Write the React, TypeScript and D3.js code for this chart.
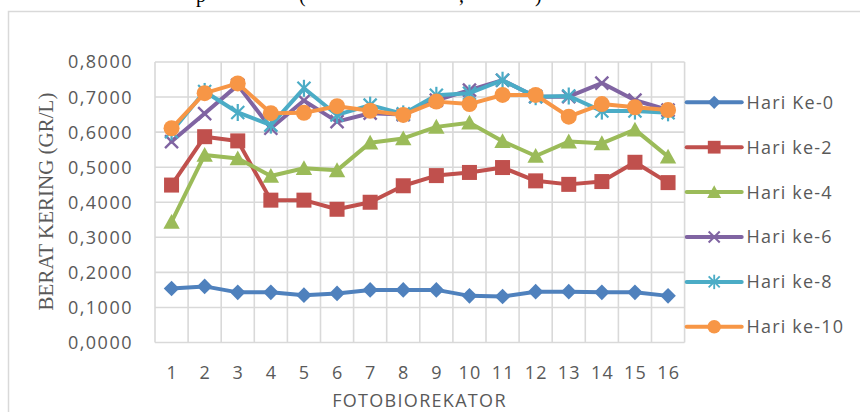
import React from "react";
import * as d3 from "d3";

// Categories (photobioreactor number) and y-axis ticks
const categories = ["1", "2", "3", "4", "5", "6", "7", "8", "9", "10", "11", "12", "13", "14", "15", "16"];
const yTicks = [0, 0.1, 0.2, 0.3, 0.4, 0.5, 0.6, 0.7, 0.8];

// Dry weight (gr/L) per day
const hari0 = [0.154, 0.160, 0.143, 0.143, 0.135, 0.140, 0.150, 0.150, 0.150, 0.133, 0.131, 0.145, 0.145, 0.143, 0.143, 0.133];
const hari2 = [0.449, 0.587, 0.575, 0.406, 0.406, 0.380, 0.400, 0.447, 0.476, 0.485, 0.499, 0.461, 0.451, 0.459, 0.514, 0.456];
const hari4 = [0.344, 0.535, 0.525, 0.475, 0.497, 0.491, 0.570, 0.582, 0.615, 0.627, 0.574, 0.532, 0.573, 0.568, 0.607, 0.530];
const hari6 = [0.573, 0.653, 0.734, 0.611, 0.690, 0.630, 0.654, 0.650, 0.691, 0.720, 0.748, 0.701, 0.701, 0.740, 0.691, 0.663];
const hari8 = [0.601, 0.716, 0.656, 0.620, 0.725, 0.649, 0.677, 0.652, 0.705, 0.711, 0.748, 0.701, 0.703, 0.660, 0.660, 0.655];
const hari10 = [0.611, 0.711, 0.739, 0.654, 0.655, 0.674, 0.661, 0.649, 0.687, 0.680, 0.706, 0.706, 0.644, 0.680, 0.671, 0.663];

const seriesNames = ["Hari Ke-0", "Hari ke-2", "Hari ke-4", "Hari ke-6", "Hari ke-8", "Hari ke-10"];
const seriesValues = [hari0, hari2, hari4, hari6, hari8, hari10];
const seriesColors = ["#4f81bd", "#c0504d", "#9bbb59", "#8064a2", "#4bacc6", "#f79646"];
const seriesMarkers = ["diamond", "square", "triangle", "x", "star", "circle"];

const W = 860;
const H = 412;
const plot = { left: 155, right: 684.6, top: 62, bottom: 342.5 };
const grid = "#d9d9d9";
const textColor = "#595959";
const sans = "'Open Sans', sans-serif";
const serif = "'Liberation Serif', 'Times New Roman', serif";

const x = d3.scaleBand<string>().domain(categories).range([plot.left, plot.right]).padding(0);
const y = d3.scaleLinear().domain([0, 0.8]).range([plot.bottom, plot.top]);
const cx = (c: string) => (x(c) as number) + x.bandwidth() / 2;
const fmt = (v: number) => d3.format(".4f")(v).replace(".", ",");

function Marker({ kind, color, px, py, s = 1 }: { kind: string; color: string; px: number; py: number; s?: number }) {
  const t = `translate(${px},${py}) scale(${s})`;
  switch (kind) {
    case "diamond":
      return <path transform={t} d="M0,-7.8L7.8,0L0,7.8L-7.8,0Z" fill={color} />;
    case "square":
      return <rect transform={t} x={-7.5} y={-7.5} width={15} height={15} fill={color} />;
    case "triangle":
      return <path transform={t} d="M0,-8L8.2,6.8L-8.2,6.8Z" fill={color} />;
    case "x":
      return (
        <g transform={t} stroke={color} strokeWidth={2.4}>
          <line x1={-6.5} y1={-6.5} x2={6.5} y2={6.5} />
          <line x1={-6.5} y1={6.5} x2={6.5} y2={-6.5} />
        </g>
      );
    case "star":
      return (
        <g transform={t} stroke={color} strokeWidth={2.2}>
          <line x1={-6.5} y1={-6.5} x2={6.5} y2={6.5} />
          <line x1={-6.5} y1={6.5} x2={6.5} y2={-6.5} />
          <line x1={0} y1={-8.5} x2={0} y2={8.5} />
        </g>
      );
    default:
      return <circle transform={t} r={8} fill={color} />;
  }
}

export default function App() {
  const line = d3
    .line<number>()
    .x((_, i) => cx(categories[i]))
    .y((v) => y(v));

  const legendX0 = 686.7;
  const legendX1 = 741.7;
  const legendY0 = 102.3;
  const legendStep = 44.9;

  return (
    <svg width={W} height={H} style={{ position: "absolute", left: 0, top: 0, background: "#fff" }}>
      {/* caption text above the chart frame, clipped by the top edge */}
      <text y={2} fontFamily={serif} fontSize={20} fill="#000">
        <tspan x={196}>p</tspan>
        <tspan x={299}>(</tspan>
        <tspan x={459}>,</tspan>
        <tspan x={535}>)</tspan>
      </text>

      {/* chart frame */}
      <rect x={8.5} y={11.5} width={W + 20} height={H + 20} fill="#fff" stroke={grid} strokeWidth={1.5} />

      {/* gridlines */}
      <g stroke={grid} strokeWidth={1.6}>
        {yTicks.map((t) => (
          <line key={"h" + t} x1={plot.left} x2={plot.right} y1={y(t)} y2={y(t)} />
        ))}
        {categories.map((c) => (
          <line key={"v" + c} x1={x(c) as number} x2={x(c) as number} y1={plot.top} y2={plot.bottom} />
        ))}
        <line x1={plot.right} x2={plot.right} y1={plot.top} y2={plot.bottom} />
      </g>

      {/* y tick labels */}
      <g fontFamily={sans} fontSize={18} fill={textColor} textAnchor="end" letterSpacing={1.5}>
        {yTicks.map((t) => (
          <text key={"yt" + t} x={133} y={y(t)} dy="0.36em">
            {fmt(t)}
          </text>
        ))}
      </g>

      {/* x tick labels */}
      <g fontFamily={sans} fontSize={18} fill={textColor} textAnchor="middle" letterSpacing={1.2}>
        {categories.map((c) => (
          <text key={"xt" + c} x={cx(c) + 0.6} y={379}>
            {c}
          </text>
        ))}
      </g>

      {/* axis titles */}
      <text x={419.5} y={407} fontFamily={sans} fontSize={18} fill={textColor} textAnchor="middle" letterSpacing={1.3}>
        FOTOBIOREKATOR
      </text>
      <text
        transform="translate(53,201.5) rotate(-90)"
        fontFamily={serif}
        fontSize={21}
        fill={textColor}
        textAnchor="middle"
      >
        BERAT KERING (GR/L)
      </text>

      {/* series */}
      {seriesValues.map((vals, si) => (
        <g key={"s" + si}>
          <path
            d={line(vals) as string}
            fill="none"
            stroke={seriesColors[si]}
            strokeWidth={4}
            strokeLinejoin="round"
            strokeLinecap="round"
          />
          {vals.map((v, i) => (
            <Marker key={i} kind={seriesMarkers[si]} color={seriesColors[si]} px={cx(categories[i])} py={y(v)} />
          ))}
        </g>
      ))}

      {/* legend */}
      {seriesNames.map((name, si) => {
        const ly = legendY0 + si * legendStep;
        return (
          <g key={"l" + si}>
            <line
              x1={legendX0}
              x2={legendX1}
              y1={ly}
              y2={ly}
              stroke={seriesColors[si]}
              strokeWidth={4}
              strokeLinecap="round"
            />
            <Marker kind={seriesMarkers[si]} color={seriesColors[si]} px={(legendX0 + legendX1) / 2} py={ly} s={0.85} />
            <text
              x={746.5}
              y={ly}
              dy="0.36em"
              fontFamily={sans}
              fontSize={18}
              fill={textColor}
              letterSpacing={1.2}
            >
              {name}
            </text>
          </g>
        );
      })}
    </svg>
  );
}
